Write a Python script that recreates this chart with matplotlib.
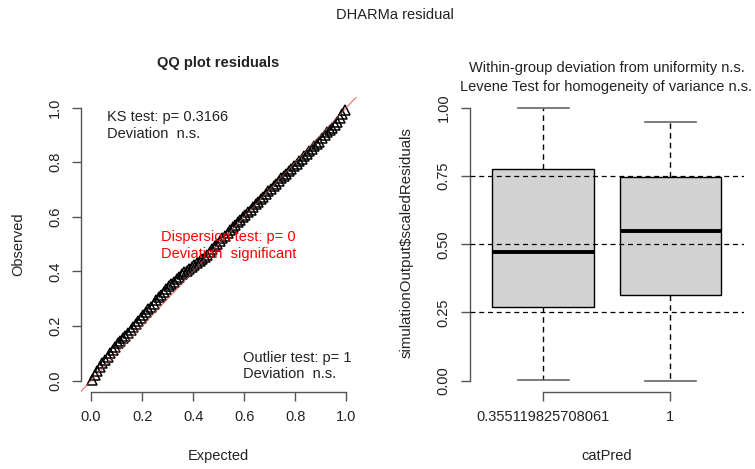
import matplotlib
matplotlib.use("Agg")
import matplotlib.pyplot as plt
import numpy as np

plt.rcParams['font.family'] = ['Liberation Sans', 'DejaVu Sans']
plt.rcParams['font.size'] = 10.5

# sorted scaled residuals (100 quantiles)
observed = [0.004, 0.02, 0.035, 0.05, 0.063, 0.075, 0.088, 0.10, 0.112, 0.124,
            0.137, 0.147, 0.156, 0.165, 0.175, 0.186, 0.197, 0.208, 0.219, 0.23,
            0.241, 0.252, 0.262, 0.271, 0.282, 0.294, 0.305, 0.315, 0.325, 0.336,
            0.346, 0.355, 0.363, 0.372, 0.381, 0.39, 0.397, 0.402, 0.408, 0.415,
            0.424, 0.432, 0.439, 0.445, 0.452, 0.46, 0.47, 0.481, 0.492, 0.502,
            0.512, 0.522, 0.531, 0.54, 0.551, 0.562, 0.571, 0.58, 0.589, 0.598,
            0.607, 0.617, 0.627, 0.637, 0.646, 0.655, 0.664, 0.674, 0.684, 0.694,
            0.703, 0.712, 0.721, 0.731, 0.741, 0.75, 0.758, 0.767, 0.777, 0.787,
            0.795, 0.803, 0.812, 0.822, 0.832, 0.841, 0.849, 0.858, 0.866, 0.875,
            0.888, 0.901, 0.91, 0.918, 0.927, 0.937, 0.948, 0.962, 0.977, 0.993]

# boxplot summaries per group of catPred
groups = ["0.355119825708061", "1"]
whis_lo = [0.004, 0.0]
q1 = [0.269, 0.314]
med = [0.471, 0.548]
q3 = [0.775, 0.747]
whis_hi = [0.998, 0.949]
ref_levels = [0.25, 0.5, 0.75]

W, H = 755, 469
AX_COL = '#555555'


def fx(px):
    return px / W


def fy(py):
    return 1 - py / H


def style_axis(ax, xb, yb):
    for s in ['top', 'right']:
        ax.spines[s].set_visible(False)
    ax.spines['left'].set_bounds(*yb)
    ax.spines['bottom'].set_bounds(*xb)
    for s in ['left', 'bottom']:
        ax.spines[s].set_color(AX_COL)
        ax.spines[s].set_linewidth(1)
    ax.tick_params(direction='out', length=6.5, width=1, color=AX_COL,
                   labelsize=10.5, labelcolor='#222222')
    ax.tick_params(axis='x', pad=7)
    ax.tick_params(axis='y', labelrotation=90, pad=7)
    for lab in ax.get_yticklabels():
        lab.set_va('center')


fig = plt.figure(figsize=(W / 100, H / 100), dpi=100)

# ---- QQ plot
ax1 = fig.add_axes([fx(80.8), fy(391.6), fx(356.5 - 80.8), (391.6 - 96.8) / H])
n = len(observed)
expected = (np.arange(1, n + 1) - 0.5) / n
ax1.plot([-0.04, 1.04], [-0.04, 1.04], color='#EE8080', lw=0.8, zorder=1)
ax1.plot(expected, observed, linestyle='none', marker='^', markersize=7.5,
         markerfacecolor='none', markeredgecolor='black', markeredgewidth=1.1, zorder=2)
ax1.plot([-0.04, 1.04], [-0.04, 1.04], color='#EE8080', lw=0.6, alpha=0.6, zorder=3)
ax1.set_xlim(-0.04, 1.04)
ax1.set_ylim(-0.04, 1.04)
ticks = [0.0, 0.2, 0.4, 0.6, 0.8, 1.0]
ax1.set_xticks(ticks)
ax1.set_yticks(ticks)
ax1.set_xticklabels([f"{t:.1f}" for t in ticks])
ax1.set_yticklabels([f"{t:.1f}" for t in ticks])
style_axis(ax1, (0, 1), (0, 1))

ax1.text(0.064, 0.934, "KS test: p= 0.3166\nDeviation  n.s.", color='#222222',
         ha='left', va='center', linespacing=1.25)
ax1.text(0.274, 0.494, "Dispersion test: p= 0\nDeviation  significant", color='red',
         ha='left', va='center', linespacing=1.25, zorder=4)
ax1.text(0.595, 0.054, "Outlier test: p= 1\nDeviation  n.s.", color='#222222',
         ha='left', va='center', linespacing=1.25)

# ---- boxplot by group
ax2 = fig.add_axes([fx(469.6), fy(391.6), fx(744 - 469.6), (391.6 - 96.8) / H])
stats = []
for i in range(len(groups)):
    stats.append(dict(whislo=whis_lo[i], q1=q1[i], med=med[i], q3=q3[i],
                      whishi=whis_hi[i], fliers=[], label=groups[i]))
ax2.bxp(stats, positions=[1, 2], widths=0.8, capwidths=0.4, patch_artist=True,
        boxprops=dict(facecolor='#D3D3D3', edgecolor='black', linewidth=1),
        medianprops=dict(color='black', linewidth=2.8, solid_capstyle='butt'),
        whiskerprops=dict(color='black', linewidth=1, linestyle=(0, (4, 3))),
        capprops=dict(color='#666666', linewidth=1.2), showfliers=False)
for lv in ref_levels:
    ax2.axhline(lv, color='black', lw=0.9, linestyle=(0, (4, 3)), zorder=5)
ax2.set_xlim(0.42, 2.58)
ax2.set_ylim(-0.04, 1.04)
yt = [0.0, 0.25, 0.5, 0.75, 1.0]
ax2.set_yticks(yt)
ax2.set_yticklabels([f"{t:.2f}" for t in yt])
ax2.set_xticks([1, 2])
ax2.set_xticklabels(groups)
style_axis(ax2, (1, 2), (0, 1))

# ---- titles and axis labels
fig.text(fx(395), fy(15), "DHARMa residual", ha='center', va='center', color='#222222')
fig.text(fx(218), fy(63), "QQ plot residuals", ha='center', va='center',
         fontweight='bold', color='#222222')
fig.text(fx(606.5), fy(68), "Within-group deviation from uniformity n.s.",
         ha='center', va='center', color='#222222')
fig.text(fx(606.5), fy(86.7), "Levene Test for homogeneity of variance n.s.",
         ha='center', va='center', color='#222222')
fig.text(fx(218), fy(456), "Expected", ha='center', va='center', color='#222222')
fig.text(fx(606.7), fy(456), "catPred", ha='center', va='center', color='#222222')
fig.text(fx(18), fy(244), "Observed", ha='center', va='center', rotation=90,
         color='#222222')
fig.text(fx(406.7), fy(243), "simulationOutput$scaledResiduals", ha='center',
         va='center', rotation=90, color='#222222', fontsize=10.8)

fig.savefig("out.png", dpi=100)
